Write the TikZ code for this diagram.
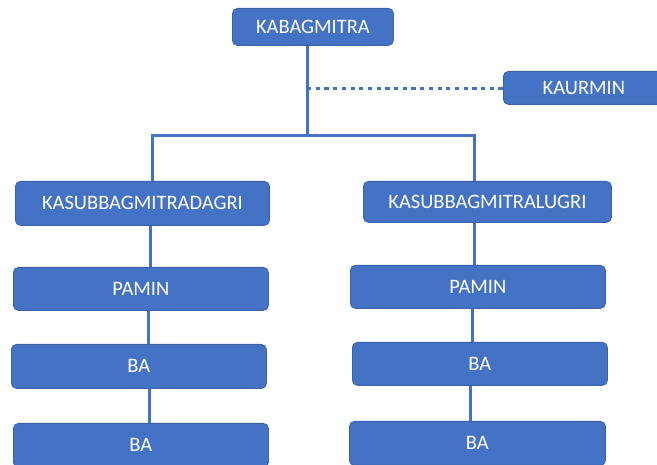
\documentclass[tikz,border=0pt]{standalone}
\usepackage{fontspec}
\setmainfont{Carlito}
\definecolor{boxblue}{HTML}{4472C4}
\definecolor{boxedge}{HTML}{3A62AA}
\begin{document}
\begin{tikzpicture}[x=1pt,y=-1pt,
  unit/.style={draw=boxedge, line width=0.8pt, fill=boxblue, rounded corners=5pt,
    text=white, font=\fontsize{20.5}{22}\selectfont, inner sep=0pt, anchor=north west},
  link/.style={draw=boxblue, line width=3pt},
  staff/.style={draw=boxblue, line width=3pt, dash pattern=on 4.2pt off 4.5pt}]
\path[use as bounding box, clip] (0,0) rectangle (657,465);
% boxes: given by top-left corner, width and height
\node[unit, minimum width=161pt, minimum height=37pt] (head) at (232,8) {KABAGMITRA};
\node[unit, minimum width=161pt, minimum height=33pt] (urmin) at (503,71) {KAURMIN};
\node[unit, minimum width=254pt, minimum height=44pt] (dagri) at (15,181) {KASUBBAGMITRADAGRI};
\node[unit, minimum width=255pt, minimum height=43pt] (lpamin) at (13,267) {PAMIN};
\node[unit, minimum width=255pt, minimum height=44pt] (lba1) at (11,344) {BA};
\node[unit, minimum width=255pt, minimum height=44pt] (lba2) at (13,423) {BA};
\node[unit, minimum width=248pt, minimum height=41pt] (lugri) at (363,181) {KASUBBAGMITRALUGRI};
\node[unit, minimum width=255pt, minimum height=43pt] (rpamin) at (350,265) {PAMIN};
\node[unit, minimum width=255pt, minimum height=43pt] (rba1) at (352,342) {BA};
\node[unit, minimum width=256pt, minimum height=44pt] (rba2) at (349,421) {BA};
% connector guides
\coordinate (trunk) at (307,136);
\coordinate (dotstart) at (307,89);
% trunk and branches
\draw[link] (head.south -| trunk) -- (trunk);
\draw[link] (dagri.north -| 152,0) -- (152,136) -- (474,136) -- (lugri.north -| 474,0);
\draw[staff] (dotstart) -- (urmin.west |- dotstart);
% left column
\draw[link] (dagri.south -| 150,0) -- (lpamin.north -| 150,0);
\draw[link] (lpamin.south -| 148,0) -- (lba1.north -| 148,0);
\draw[link] (lba1.south -| 149,0) -- (lba2.north -| 149,0);
% right column
\draw[link] (lugri.south -| 474,0) -- (rpamin.north -| 474,0);
\draw[link] (rpamin.south -| 472,0) -- (rba1.north -| 472,0);
\draw[link] (rba1.south -| 470,0) -- (rba2.north -| 470,0);
\end{tikzpicture}
\end{document}
